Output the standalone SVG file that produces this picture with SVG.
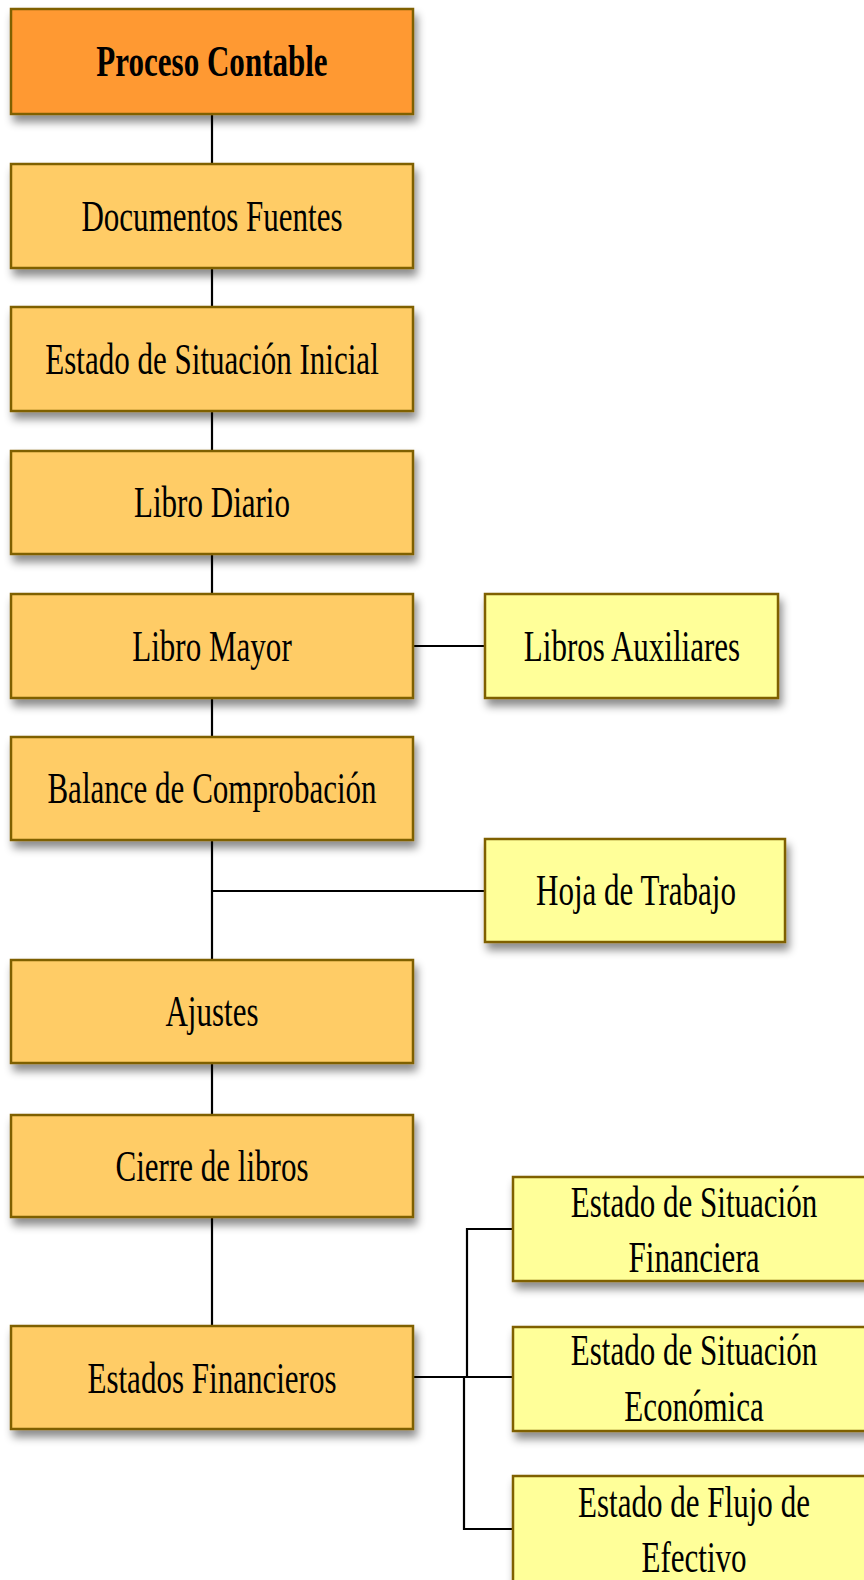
<svg xmlns="http://www.w3.org/2000/svg" width="864" height="1580" viewBox="0 0 864 1580">
<defs>
<filter id="sh" x="-10%" y="-20%" width="130%" height="160%">
<feDropShadow dx="3" dy="7" stdDeviation="4" flood-color="#000" flood-opacity="0.45"/>
</filter>
<style>
.box{stroke:#7F6000;stroke-width:2.5;filter:url(#sh)}
.top{fill:#FF9933}
.main{fill:#FFCC66}
.side{fill:#FFFF99}
.t{font-family:"Liberation Serif","Times New Roman",serif;font-size:45px;fill:#000;text-anchor:middle}
.b{font-weight:bold}
.c{stroke:#000;stroke-width:2.2;fill:none}
</style>
</defs>
<rect width="864" height="1580" fill="#fff"/>
<g id="connectors">
<line class="c" x1="212" y1="114" x2="212" y2="164"/>
<line class="c" x1="212" y1="268" x2="212" y2="307"/>
<line class="c" x1="212" y1="411" x2="212" y2="451"/>
<line class="c" x1="212" y1="554" x2="212" y2="594"/>
<line class="c" x1="212" y1="698" x2="212" y2="737"/>
<line class="c" x1="413" y1="646" x2="485" y2="646"/>
<line class="c" x1="212" y1="840" x2="212" y2="960"/>
<line class="c" x1="212" y1="891" x2="485" y2="891"/>
<line class="c" x1="212" y1="1063" x2="212" y2="1115"/>
<line class="c" x1="212" y1="1217" x2="212" y2="1326"/>
<line class="c" x1="413" y1="1377" x2="513" y2="1377"/>
<polyline class="c" points="467,1377 467,1229 513,1229"/>
<polyline class="c" points="464,1377 464,1529 518,1529"/>
</g>
<g id="n1"><rect class="box top" x="11" y="9" width="402" height="105"/><text class="t b" transform="translate(212 76) scale(0.69 1)">Proceso Contable</text></g>
<g id="n2"><rect class="box main" x="11" y="164" width="402" height="104"/><text class="t" transform="translate(212 231) scale(0.69 1)">Documentos Fuentes</text></g>
<g id="n3"><rect class="box main" x="11" y="307" width="402" height="104"/><text class="t" transform="translate(212 374) scale(0.69 1)">Estado de Situación Inicial</text></g>
<g id="n4"><rect class="box main" x="11" y="451" width="402" height="103"/><text class="t" transform="translate(212 517) scale(0.69 1)">Libro Diario</text></g>
<g id="n5"><rect class="box main" x="11" y="594" width="402" height="104"/><text class="t" transform="translate(212 661) scale(0.69 1)">Libro Mayor</text></g>
<g id="n6"><rect class="box side" x="485" y="594" width="293" height="104"/><text class="t" transform="translate(632 661) scale(0.69 1)">Libros Auxiliares</text></g>
<g id="n7"><rect class="box main" x="11" y="737" width="402" height="103"/><text class="t" transform="translate(212 803) scale(0.69 1)">Balance de Comprobación</text></g>
<g id="n8"><rect class="box side" x="485" y="839" width="300" height="103"/><text class="t" transform="translate(636 905) scale(0.69 1)">Hoja de Trabajo</text></g>
<g id="n9"><rect class="box main" x="11" y="960" width="402" height="103"/><text class="t" transform="translate(212 1026) scale(0.69 1)">Ajustes</text></g>
<g id="n10"><rect class="box main" x="11" y="1115" width="402" height="102"/><text class="t" transform="translate(212 1181) scale(0.69 1)">Cierre de libros</text></g>
<g id="n11"><rect class="box main" x="11" y="1326" width="402" height="103"/><text class="t" transform="translate(212 1393) scale(0.69 1)">Estados Financieros</text></g>
<g id="n12"><rect class="box side" x="513" y="1177" width="370" height="104"/><text class="t" transform="translate(694 1217) scale(0.69 1)">Estado de Situación</text><text class="t" transform="translate(694 1272) scale(0.69 1)">Financiera</text></g>
<g id="n13"><rect class="box side" x="513" y="1327" width="370" height="104"/><text class="t" transform="translate(694 1365) scale(0.69 1)">Estado de Situación</text><text class="t" transform="translate(694 1421) scale(0.69 1)">Económica</text></g>
<g id="n14"><rect class="box side" x="513" y="1476" width="370" height="120"/><text class="t" transform="translate(694 1517) scale(0.69 1)">Estado de Flujo de</text><text class="t" transform="translate(694 1572) scale(0.69 1)">Efectivo</text></g>
</svg>
